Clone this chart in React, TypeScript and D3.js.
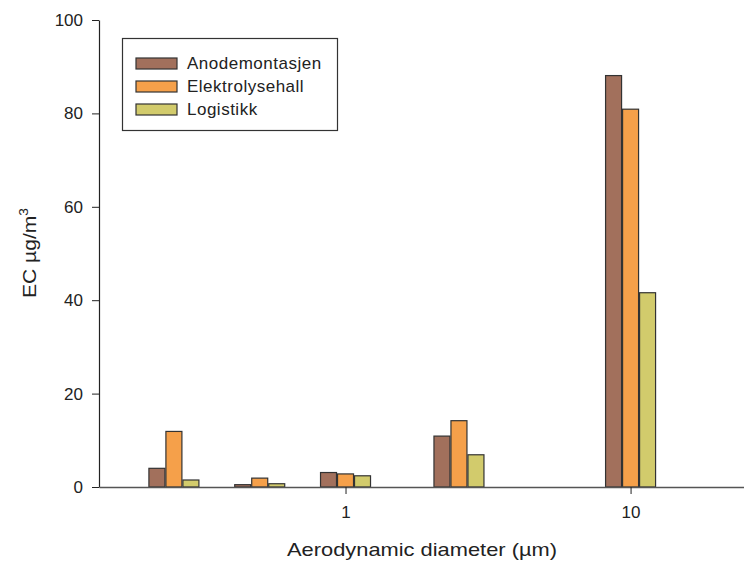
import { useEffect, useRef } from "react";
import * as d3 from "d3";

// particle size bins (µm) and EC values per location
const diameters = [0.25, 0.5, 1, 2.5, 10];
const seriesNames = ["Anodemontasjen", "Elektrolysehall", "Logistikk"];
const anodemontasjen = [4.0, 0.5, 3.1, 10.9, 88.1];
const elektrolysehall = [11.9, 1.9, 2.8, 14.2, 80.9];
const logistikk = [1.5, 0.7, 2.4, 6.9, 41.6];
const seriesColors = ["#A2705C", "#F5A04A", "#D2CB6C"];
const yTicks = [0, 20, 40, 60, 80, 100];
const xTicks = [1, 10];

const W = 744;
const H = 563;

const App = () => {
    const svgRef = useRef<SVGSVGElement | null>(null);

    useEffect(() => {
        const svg = d3.select(svgRef.current);
        svg.selectAll("*").remove();

        const left = 99;
        const bottom = 487;
        const top = 20;
        const font = "'Liberation Sans', Arial, sans-serif";

        const x = d3.scaleLog().domain([0.1365, 25]).range([left, 744]);
        const y = d3.scaleLinear().domain([0, 100]).range([bottom, top]);

        const series = [anodemontasjen, elektrolysehall, logistikk];
        const step = 17;
        const bw = 16;

        // bars
        const gBars = svg.append("g");
        series.forEach((vals, si) => {
            gBars.selectAll(null)
                .data(vals)
                .join("rect")
                .attr("x", (d, i) => x(diameters[i]) + (si - 1) * step - bw / 2)
                .attr("y", (d) => y(d))
                .attr("width", bw)
                .attr("height", (d) => bottom - y(d))
                .attr("fill", seriesColors[si])
                .attr("stroke", "#333")
                .attr("stroke-width", 1.2);
        });

        // y axis
        const yAxis = svg.append("g")
            .attr("transform", `translate(${left},0)`)
            .call(d3.axisLeft(y).tickValues(yTicks).tickSize(7).tickSizeOuter(0).tickPadding(9));
        yAxis.select(".domain").attr("stroke", "#222").attr("stroke-width", 1.2);
        yAxis.selectAll(".tick line").attr("stroke", "#222");
        yAxis.selectAll("text").attr("font-family", font).attr("font-size", 17).attr("fill", "#222");

        // x axis
        const xAxis = svg.append("g")
            .attr("transform", `translate(0,${bottom})`)
            .call(d3.axisBottom(x).tickValues(xTicks).tickFormat(d3.format("d")).tickSize(7).tickSizeOuter(0).tickPadding(12));
        xAxis.select(".domain").attr("stroke", "#555").attr("stroke-width", 1.5);
        xAxis.selectAll(".tick line").attr("stroke", "#222");
        xAxis.selectAll("text").attr("font-family", font).attr("font-size", 17).attr("fill", "#222");

        // axis titles
        svg.append("text")
            .attr("x", 287)
            .attr("y", 556)
            .attr("font-family", font)
            .attr("font-size", 18.5)
            .attr("textLength", 270)
            .attr("lengthAdjust", "spacingAndGlyphs")
            .attr("fill", "#222")
            .text("Aerodynamic diameter (µm)");

        const yt = svg.append("text")
            .attr("transform", "translate(36,298) rotate(-90)")
            .attr("font-family", font)
            .attr("font-size", 18.5)
            .attr("textLength", 90)
            .attr("lengthAdjust", "spacingAndGlyphs")
            .attr("fill", "#222");
        yt.append("tspan").text("EC µg/m");
        yt.append("tspan").attr("dy", -8).attr("font-size", 12).text("3");

        // legend
        const lg = svg.append("g");
        lg.append("rect")
            .attr("x", 122.5).attr("y", 38.5)
            .attr("width", 215).attr("height", 92)
            .attr("fill", "#fff")
            .attr("stroke", "#333")
            .attr("stroke-width", 1.2);
        seriesNames.forEach((name, i) => {
            const ry = 58 + i * 23;
            lg.append("rect")
                .attr("x", 136).attr("y", ry)
                .attr("width", 41).attr("height", 11)
                .attr("fill", seriesColors[i])
                .attr("stroke", "#333")
                .attr("stroke-width", 1.2);
            lg.append("text")
                .attr("x", 187).attr("y", ry + 11)
                .attr("font-family", font)
                .attr("font-size", 17)
                .attr("letter-spacing", 0.5)
                .attr("fill", "#222")
                .text(name);
        });
    }, []);

    return (
        <svg
            ref={svgRef}
            width={W}
            height={H}
            style={{ position: "absolute", left: 0, top: 0, background: "#fff" }}
        />
    );
};

export default App;
